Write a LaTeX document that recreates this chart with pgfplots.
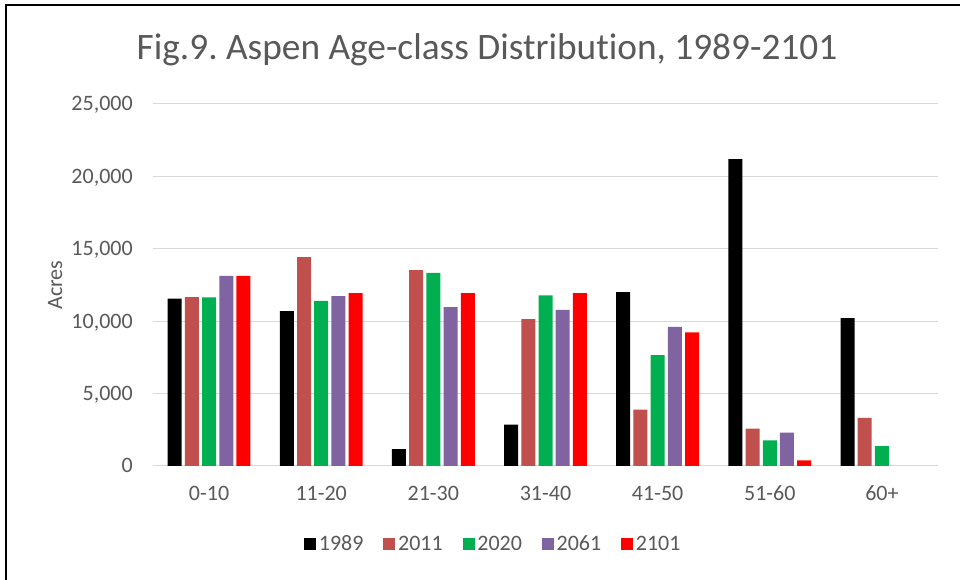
\documentclass[border=0pt]{standalone}
\usepackage{pgfplots}
\pgfplotsset{compat=1.18}
\usepackage{fontspec}
\setmainfont{Carlito}[Ligatures=NoCommon]
\frenchspacing
\definecolor{txt}{HTML}{595959}
\definecolor{grd}{HTML}{D9D9D9}
\definecolor{cA}{HTML}{000000}
\definecolor{cB}{HTML}{C0504D}
\definecolor{cC}{HTML}{00B050}
\definecolor{cD}{HTML}{8064A2}
\definecolor{cE}{HTML}{FF0000}
\begin{document}
\begin{tikzpicture}
\useasboundingbox (-114.75pt,-85.5pt) rectangle (605.25pt,349.5pt);
\fill[white] (-114.75pt,-85.5pt) rectangle (605.25pt,349.5pt);
\draw[black, line width=1.5pt] (-110.25pt,-90pt) -- (-110.25pt,345.75pt) -- (610pt,345.75pt);
\begin{axis}[
  at={(0pt,0pt)}, anchor=south west,
  scale only axis, width=588.75pt, height=271.5pt,
  xmin=-0.5, xmax=6.5, ymin=0, ymax=25000,
  ybar=2.4pt, bar width=10.5pt,
  axis line style={draw=none},
  major tick length=0pt,
  ymajorgrids, grid style={grd, line width=0.75pt},
  ytick={0,5000,10000,15000,20000,25000},
  scaled y ticks=false,
  /pgf/number format/.cd, 1000 sep={,}, assume math mode=true, /pgfplots/.cd,
  xtick={0,1,2,3,4,5,6},
  xticklabels={0-10,11-20,21-30,31-40,41-50,51-60,60+},
  ticklabel style={font=\fontsize{16.5}{19}\selectfont, text=txt},
  yticklabel style={anchor=base east, inner sep=0pt, xshift=-15pt, yshift=-5.25pt},
  xticklabel style={anchor=base, inner sep=0pt, yshift=-26.25pt},
  ylabel={Acres},
  ylabel style={at={(axis description cs:-0.1248,0.5)}, anchor=center, font=\fontsize{16.5}{19}\selectfont, text=txt, inner sep=0pt},
  legend columns=5,
  legend style={at={(axis description cs:0.4340,-0.2155)}, anchor=center, draw=none, fill=none,
    font=\fontsize{16.5}{19}\selectfont, text=txt,
    /tikz/every even column/.append style={column sep=13pt},
    inner sep=0pt, outer sep=0pt},
  legend image code/.code={\fill[#1] (0pt,-4.5pt) rectangle (9pt,4.5pt);},
  clip=false,
]
\addplot[fill=cA, draw=none] coordinates {(0,11550) (1,10690) (2,1170) (3,2850) (4,12000) (5,21200) (6,10210)};
\addplot[fill=cB, draw=none] coordinates {(0,11660) (1,14420) (2,13520) (3,10140) (4,3890) (5,2580) (6,3330)};
\addplot[fill=cC, draw=none] coordinates {(0,11640) (1,11410) (2,13340) (3,11780) (4,7660) (5,1770) (6,1380)};
\addplot[fill=cD, draw=none] coordinates {(0,13130) (1,11730) (2,10970) (3,10790) (4,9610) (5,2300)};
\addplot[fill=cE, draw=none] coordinates {(0,13130) (1,11940) (2,11940) (3,11940) (4,9220) (5,390)};
\legend{1989,2011,2020,2061,2101}
\end{axis}
\node[text=txt, font=\fontsize{28}{33}\selectfont, inner sep=0pt] at (250.5pt,312pt) {Fig.9. Aspen Age-class Distribution, 1989-2101};
\end{tikzpicture}
\end{document}
